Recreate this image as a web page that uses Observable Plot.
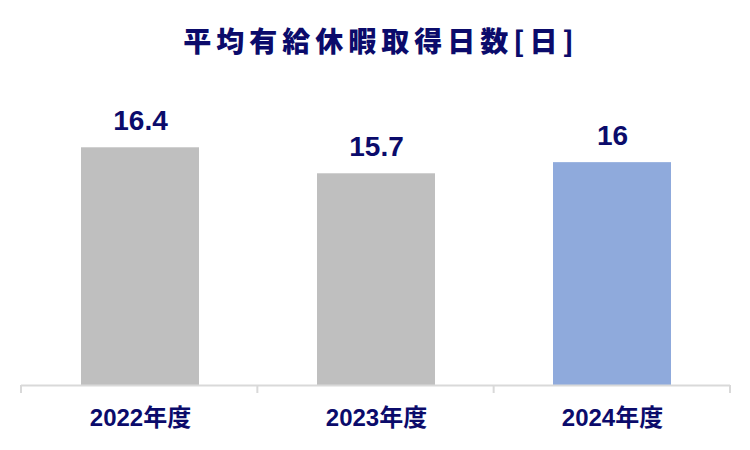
<!DOCTYPE html>
<html>
<head>
<meta charset="utf-8">
<script src="https://cdn.jsdelivr.net/npm/d3@7"></script>
<script src="https://cdn.jsdelivr.net/npm/@observablehq/plot@0.6"></script>
<style>
  body { margin: 0; background: #fff; }
  #title {
    height: 54px; padding-top: 26px; padding-left: 12px; line-height: 28px;
    text-align: center; font-family: "Noto Sans CJK JP", "Noto Sans", sans-serif;
    font-weight: 900; font-size: 28px; letter-spacing: 5px; color: #0b0b6b;
  }
</style>
</head>
<body>
<div id="title">平均有給休暇取得日数[日]</div>
<div id="chart"></div>
<script>
const categories = ["2022年度", "2023年度", "2024年度"];
const values = [16.4, 15.7, 16];
const barColors = ["#bfbfbf", "#bfbfbf", "#8faadc"];
const valueLabels = ["16.4", "15.7", "16"];

const data = categories.map((c, i) => ({category: c, value: values[i], color: barColors[i], label: valueLabels[i]}));
const navy = "#0b0b6b";
const font = "'Liberation Sans', Arial, 'Noto Sans CJK JP', sans-serif";

const boundaryTicks = (index, scales, values, dims) => {
  const g = d3.create("svg:g");
  const x0 = dims.marginLeft, x1 = dims.width - dims.marginRight;
  const y0 = scales.y(10);
  const n = categories.length;
  for (let i = 0; i <= n; i++) {
    const x = x0 + (x1 - x0) * i / n;
    g.append("line").attr("x1", x).attr("x2", x).attr("y1", y0).attr("y2", y0 + 8)
      .attr("stroke", "#d9d9d9").attr("stroke-width", 2);
  }
  return g.node();
};

const chart = Plot.plot({
  width: 750,
  height: 370,
  marginLeft: 21,
  marginRight: 20,
  marginTop: 45,
  marginBottom: 65,
  style: {fontFamily: font, background: "#fff"},
  x: {domain: categories, paddingInner: 0.5, paddingOuter: 0.25, label: null},
  y: {domain: [10, 17], axis: null},
  marks: [
    Plot.barY(data, {x: "category", y1: 10, y2: "value", fill: "color"}),
    Plot.ruleY([10], {stroke: "#d9d9d9", strokeWidth: 2}),
    boundaryTicks,
    Plot.text(data, {x: "category", y: "value", text: "label", dy: -18, lineAnchor: "bottom",
      fontSize: 28, fontWeight: "bold", fill: navy}),
    Plot.axisX({tickSize: 0, tickPadding: 23, fontSize: 24, fontWeight: "bold", fill: navy, label: null})
  ]
});
document.getElementById("chart").appendChild(chart);
</script>
</body>
</html>
